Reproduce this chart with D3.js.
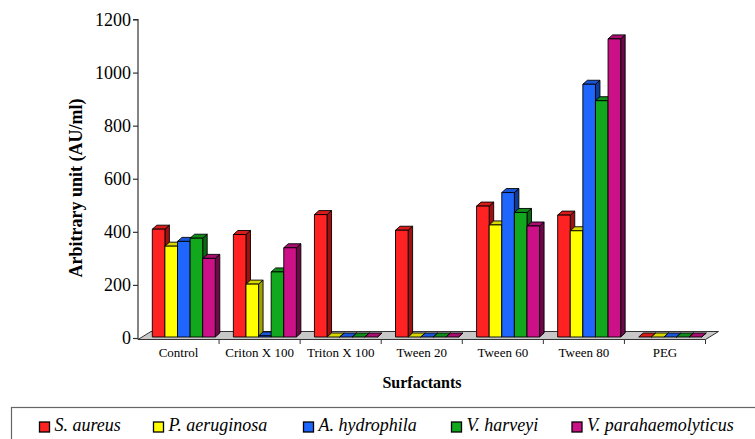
<!DOCTYPE html>
<html>
<head>
<meta charset="utf-8">
<script src="https://cdn.jsdelivr.net/npm/d3@7"></script>
<style>
  html, body { margin: 0; padding: 0; background: #fff; }
  svg { display: block; }
  text { font-family: "Liberation Serif", "Times New Roman", serif; fill: #000; }
</style>
</head>
<body>
<svg id="chart" width="755" height="439"></svg>
<script>
// Surfactant categories and activity (AU/ml) for each organism
const categories = ["Control", "Criton X 100", "Triton X 100", "Tween 20", "Tween 60", "Tween 80", "PEG"];
const seriesNames = ["S. aureus", "P. aeruginosa", "A. hydrophila", "V. harveyi", "V. parahaemolyticus"];
const sAureus      = [410, 390, 465, 406, 497, 463, 0];
const pAeruginosa  = [346, 203, 0, 0, 426, 404, 0];
const aHydrophila  = [364, 8, 0, 0, 548, 956, 0];
const vHarveyi     = [376, 249, 0, 0, 473, 894, 0];
const vParahaemo   = [300, 340, 0, 0, 422, 1127, 0];
const yTickValues  = [0, 200, 400, 600, 800, 1000, 1200];

const seriesValues = [sAureus, pAeruginosa, aHydrophila, vHarveyi, vParahaemo];
const frontColors = ["#ff2222", "#ffff00", "#1f66ff", "#12a81e", "#cc1188"];
const topColors   = ["#d81c1c", "#d8d800", "#1a55d8", "#0f8c19", "#a80e70"];
const sideColors  = ["#a01010", "#a0a000", "#0f3c9c", "#0a6a12", "#6e0848"];

const svg = d3.select("#chart");

const x0 = 138, x1 = 705.5;
const x = d3.scaleBand().domain(categories).range([x0, x1]).padding(0);
const y = d3.scaleLinear().domain([0, 1200]).range([338, 19.5]);

// inner positions of the five bars inside each category band
const barW = 12.6, barOffset = 14.3;
const xs = d3.scaleBand().domain(seriesNames).range([barOffset, barOffset + barW * 5]).padding(0);
const dx = 4.5, dy = 4;   // depth of the 3-D columns
const fdx = 13, fdy = 8;  // depth of the floor

// floor
const floorFront = y(0) + 1.5;
svg.append("polygon")
  .attr("points", [
    [x0, floorFront], [x1, floorFront],
    [x1 + fdx, floorFront - fdy], [x0 + fdx, floorFront - fdy]
  ].map(p => p.join(",")).join(" "))
  .attr("fill", "#c8c8c8")
  .attr("stroke", "#333")
  .attr("stroke-width", 1);

// category ticks along the floor front edge
const bounds = categories.map(c => x(c)).concat([x1]);
svg.append("g").selectAll("line").data(bounds.slice(1)).join("line")
  .attr("x1", d => d).attr("x2", d => d)
  .attr("y1", floorFront).attr("y2", floorFront + 4.5)
  .attr("stroke", "#333").attr("stroke-width", 1);

// 3-D columns
const barsG = svg.append("g");
categories.forEach((cat, ci) => {
  seriesNames.forEach((s, si) => {
    const v = seriesValues[si][ci];
    const left = x(cat) + xs(s);
    const right = left + barW;
    const top = y(v);
    const base = y(0) - 1;
    const g = barsG.append("g").attr("stroke", "#000").attr("stroke-width", 0.9).attr("stroke-linejoin", "round");
    // side face
    g.append("polygon")
      .attr("points", [[right, Math.min(top, base)], [right + dx, Math.min(top, base) - dy], [right + dx, base - dy], [right, base]].map(p => p.join(",")).join(" "))
      .attr("fill", sideColors[si]);
    // top face
    g.append("polygon")
      .attr("points", [[left, Math.min(top, base)], [left + dx, Math.min(top, base) - dy], [right + dx, Math.min(top, base) - dy], [right, Math.min(top, base)]].map(p => p.join(",")).join(" "))
      .attr("fill", topColors[si]);
    // front face
    if (base - top > 0.5) {
      g.append("rect")
        .attr("x", left).attr("y", top)
        .attr("width", barW).attr("height", base - top)
        .attr("fill", frontColors[si]);
    }
  });
});

// y axis
const yAxis = d3.axisLeft(y).tickValues(yTickValues).tickSize(5).tickPadding(2).tickFormat(d3.format("d"));
const yG = svg.append("g").attr("transform", `translate(${x0},0)`).call(yAxis);
yG.select(".domain").attr("stroke", "#333").attr("stroke-width", 1.2).attr("d", `M-5,${y(1200)}H0V${floorFront}`);
yG.selectAll(".tick line").attr("stroke", "#333").attr("stroke-width", 1.2);
yG.selectAll(".tick text")
  .style("font-family", "'Liberation Serif', serif")
  .style("font-size", "18px")
  .attr("fill", "#000");

// category labels
svg.append("g").selectAll("text").data(categories).join("text")
  .attr("x", d => x(d) + x.bandwidth() / 2)
  .attr("y", 357)
  .attr("text-anchor", "middle")
  .style("font-size", "13px")
  .text(d => d);

// axis titles
svg.append("text")
  .attr("transform", "translate(82,188) rotate(-90)")
  .attr("text-anchor", "middle")
  .style("font-size", "18px")
  .style("font-weight", "bold")
  .text("Arbitrary unit (AU/ml)");

svg.append("text")
  .attr("x", 422).attr("y", 388)
  .attr("text-anchor", "middle")
  .style("font-size", "16px")
  .style("font-weight", "bold")
  .text("Surfactants");

// legend
svg.append("rect")
  .attr("x", 11.5).attr("y", 407.5)
  .attr("width", 780).attr("height", 60)
  .attr("fill", "none").attr("stroke", "#666").attr("stroke-width", 1.2);

const legendX = [39.5, 153.5, 303.5, 451.5, 572];
const lg = svg.append("g").selectAll("g").data(seriesNames).join("g")
  .attr("transform", (d, i) => `translate(${legendX[i]},0)`);
lg.append("rect")
  .attr("x", 0).attr("y", 422).attr("width", 10).attr("height", 10)
  .attr("fill", (d, i) => frontColors[i]).attr("stroke", "#000").attr("stroke-width", 1.3);
lg.append("text")
  .attr("x", 15).attr("y", 431)
  .style("font-size", "18px")
  .style("font-style", "italic")
  .text(d => d);
</script>
</body>
</html>
